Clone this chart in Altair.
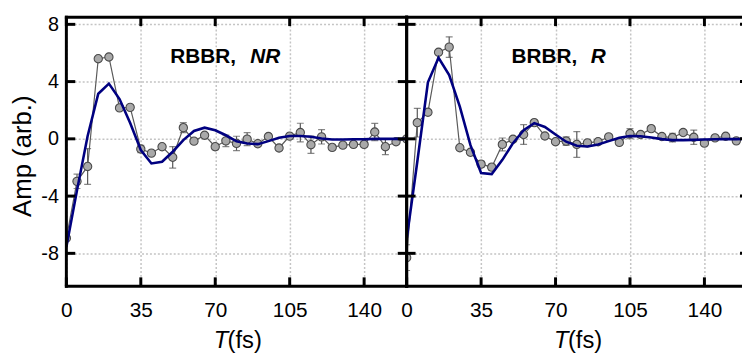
import altair as alt
import pandas as pd

# ---------------- data ----------------
XTICKS = [0, 35, 70, 105, 140]
YTICKS = [-8, -4, 0, 4, 8]

# Left panel: RBBR, NR
L_T = [0, 5, 10, 15, 20, 25, 30, 35, 40, 45, 50, 55, 60, 65, 70, 75, 80,
       85, 90, 95, 100, 105, 110, 115, 120, 125, 130, 135, 140, 145, 150, 155, 160]
L_AMP = [-6.94, -2.97, -1.93, 5.60, 5.72, 2.16, 2.20, -0.71, -1.00, -0.55, -1.29,
         0.78, -0.16, 0.25, -0.55, -0.14, -0.32, -0.02, -0.34, 0.16, -0.64, 0.19,
         0.44, -0.41, 0.14, -0.60, -0.44, -0.39, -0.39, 0.48, -0.55, -0.20, 0.00]
L_ERR = [0.15, 0.50, 1.25, 0.15, 0.15, 0.15, 0.15, 0.25, 0.15, 0.15, 0.75,
         0.35, 0.15, 0.15, 0.20, 0.40, 0.50, 0.45, 0.15, 0.20, 0.15, 0.15,
         0.65, 0.60, 0.50, 0.15, 0.15, 0.15, 0.15, 0.60, 0.55, 0.15, 0.15]
L_FIT = [-7.56, -3.60, 0.20, 3.15, 3.86, 2.78, 1.10, -0.78, -1.72, -1.60, -0.90,
         -0.09, 0.55, 0.78, 0.60, 0.25, -0.17, -0.32, -0.37, -0.16, 0.07, 0.20,
         0.20, 0.14, 0.02, -0.05, -0.05, -0.03, -0.03, 0.00, 0.00, 0.00, 0.00]

# Right panel: BRBR, R
R_T = [0, 5, 10, 15, 20, 25, 30, 35, 40, 45, 50, 55, 60, 65, 70, 75, 80,
       85, 90, 95, 100, 105, 110, 115, 120, 125, 130, 135, 140, 145, 150, 155]
R_AMP = [-8.30, 1.13, 1.86, 6.05, 6.41, -0.62, -0.94, -1.77, -1.98, -0.39, -0.03,
         0.30, 1.13, 0.20, -0.20, -0.16, -0.39, -0.28, -0.20, 0.14, -0.25, 0.37,
         0.30, 0.71, 0.16, 0.09, 0.44, 0.11, -0.30, 0.07, 0.18, -0.14]
R_ERR = [0.90, 1.00, 0.15, 0.15, 0.72, 0.15, 0.15, 0.20, 0.20, 0.45, 0.15,
         0.69, 0.15, 0.15, 0.15, 0.30, 0.90, 0.15, 0.15, 0.15, 0.15, 0.35,
         0.15, 0.15, 0.15, 0.30, 0.15, 0.50, 0.15, 0.15, 0.15, 0.15]
R_FIT_T = [0, 5, 10, 15, 20, 25, 30, 35, 40, 45, 50, 55, 60, 65, 70, 75, 80,
           85, 90, 95, 100, 105, 110, 115, 120, 125, 130, 135, 140, 145, 150, 155, 160]
R_FIT = [-7.00, -1.60, 3.95, 5.66, 4.46, 2.25, -0.44, -2.39, -2.46, -1.47, -0.30,
         0.60, 1.10, 0.83, 0.30, -0.20, -0.48, -0.53, -0.39, -0.16, 0.07, 0.20,
         0.18, 0.09, -0.02, -0.09, -0.09, -0.07, -0.05, -0.03, -0.02, -0.02, 0.00]

# ---------------- style ----------------
H = 272
W_L, W_R = 344, 339           # right panel is cut by the picture edge
T_MAX_L, T_MAX_R = 160, 157.67
FONT = "Liberation Sans"
GRID = dict(grid=True, gridColor="#c4c4c4", gridDash=[2, 2], gridWidth=1.5)
yscale = alt.Scale(domain=[-10.3, 8.5], nice=False, zero=False)
ONE = pd.DataFrame({"a": [0]})


def panel(t_pts, amp, err, t_fit, fit, name, name_it, name_x, it_x, first, W, tmax):
    xscale = alt.Scale(domain=[0, tmax], nice=False, zero=False)
    pts = pd.DataFrame({"t": t_pts, "v": amp,
                        "lo": [a - e for a, e in zip(amp, err)],
                        "hi": [a + e for a, e in zip(amp, err)]})
    fdf = pd.DataFrame({"t": t_fit, "v": fit})
    xax = alt.Axis(values=XTICKS, title=None, ticks=False, tickSize=0, domain=False,
                   labelFontSize=21, labelPadding=14, labelFlush=False,
                   labelOverlap=False, labelColor="black", labelFont=FONT, **GRID)
    if first:
        yax = alt.Axis(values=YTICKS, title="Amp (arb.)", ticks=False, tickSize=0,
                       domain=False, labelFontSize=20, labelPadding=8,
                       labelFlush=False, labelOverlap=False, labelColor="black",
                       labelFont=FONT, labelExpr="datum.value + ''",
                       titleFont=FONT, titleFontSize=26,
                       titleFontWeight="normal", titleColor="black",
                       titleAngle=270, titleAlign="center", titleBaseline="alphabetic",
                       titleX=-36, titleY=140, **GRID)
    else:
        yax = alt.Axis(values=YTICKS, title=None, ticks=False, tickSize=0,
                       domain=False, labels=False, **GRID)

    def X(f="t"):
        return alt.X(f"{f}:Q", scale=xscale, axis=xax)

    def Y(f="v"):
        return alt.Y(f"{f}:Q", scale=yscale, axis=yax)

    conn = alt.Chart(pts).mark_line(color="#5a5a5a", strokeWidth=1.2, clip=True).encode(x=X(), y=Y())
    bars = alt.Chart(pts).mark_rule(color="#555555", strokeWidth=1.2, clip=True).encode(
        x=X(), y=Y("lo"), y2="hi:Q")
    cap_lo = alt.Chart(pts).mark_tick(orient="horizontal", color="#555555", size=7,
                                      thickness=1.2, clip=True).encode(x=X(), y=Y("lo"))
    cap_hi = alt.Chart(pts).mark_tick(orient="horizontal", color="#555555", size=7,
                                      thickness=1.2, clip=True).encode(x=X(), y=Y("hi"))
    dots = alt.Chart(pts).mark_point(filled=True, shape="circle", size=70, fill="#a9a9a9",
                                     stroke="#4a4a4a", strokeWidth=1.1, opacity=1,
                                     clip=True).encode(x=X(), y=Y())
    fitl = alt.Chart(fdf).mark_line(color="#000080", strokeWidth=2.6, clip=True).encode(x=X(), y=Y())

    xt = pd.DataFrame({"t": XTICKS})
    yt = pd.DataFrame({"v": YTICKS})
    rule = dict(color="black", strokeWidth=3)
    tick_b = alt.Chart(xt).mark_rule(**rule).encode(x=X(), y=alt.value(H), y2=alt.value(H - 9))
    tick_t = alt.Chart(xt).mark_rule(**rule).encode(x=X(), y=alt.value(0), y2=alt.value(9))
    tick_l = alt.Chart(yt).mark_rule(**rule).encode(y=Y(), x=alt.value(0), x2=alt.value(9))
    rlen = 9 if first else 2
    tick_r = alt.Chart(yt).mark_rule(**rule).encode(y=Y(), x=alt.value(W - rlen), x2=alt.value(W))

    frame = dict(color="black", strokeWidth=3, strokeCap="square")
    fr_l = alt.Chart(ONE).mark_rule(**frame).encode(x=alt.value(0), y=alt.value(0), y2=alt.value(H))
    fr_t = alt.Chart(ONE).mark_rule(**frame).encode(y=alt.value(0), x=alt.value(0), x2=alt.value(W))
    fr_b = alt.Chart(ONE).mark_rule(**frame).encode(y=alt.value(H), x=alt.value(0), x2=alt.value(W))
    layers = [conn, bars, cap_lo, cap_hi, dots, fitl, tick_b, tick_t, tick_l, tick_r,
              fr_l, fr_t, fr_b]
    if first:
        layers.append(alt.Chart(ONE).mark_rule(**frame).encode(
            x=alt.value(W), y=alt.value(0), y2=alt.value(H)))

    lab1 = alt.Chart(pd.DataFrame({"s": [name]})).mark_text(
        font=FONT, fontSize=21, fontWeight="bold", align="left", baseline="alphabetic",
        color="black").encode(text="s:N", x=alt.value(name_x), y=alt.value(46))
    lab2 = alt.Chart(pd.DataFrame({"s": [name_it]})).mark_text(
        font=FONT, fontSize=21, fontWeight="bold", fontStyle="italic", align="left",
        baseline="alphabetic", color="black").encode(text="s:N", x=alt.value(it_x), y=alt.value(46))

    tt1 = alt.Chart(pd.DataFrame({"s": ["T"]})).mark_text(
        font=FONT, fontSize=24, fontStyle="italic", align="left", baseline="alphabetic",
        color="black").encode(text="s:N", x=alt.value(149), y=alt.value(334))
    tt2 = alt.Chart(pd.DataFrame({"s": ["(fs)"]})).mark_text(
        font=FONT, fontSize=24, align="left", baseline="alphabetic",
        color="black").encode(text="s:N", x=alt.value(163), y=alt.value(334))

    layers += [lab1, lab2, tt1, tt2]
    return alt.layer(*layers).properties(width=W, height=H)


left = panel(L_T, L_AMP, L_ERR, L_T, L_FIT, "RBBR,", "NR", 105, 186, True, W_L, T_MAX_L)
right = panel(R_T, R_AMP, R_ERR, R_FIT_T, R_FIT, "BRBR,", "R", 106, 186, False, W_R, T_MAX_R)

chart = alt.hconcat(left, right, spacing=0, bounds="flush").properties(
    autosize=alt.AutoSizeParams(type="none"),
    padding={"left": 59, "top": 6, "right": 683, "bottom": 326},
).configure_view(strokeWidth=0)

chart.save("out.html", embed_options={"renderer": "svg", "actions": False})
